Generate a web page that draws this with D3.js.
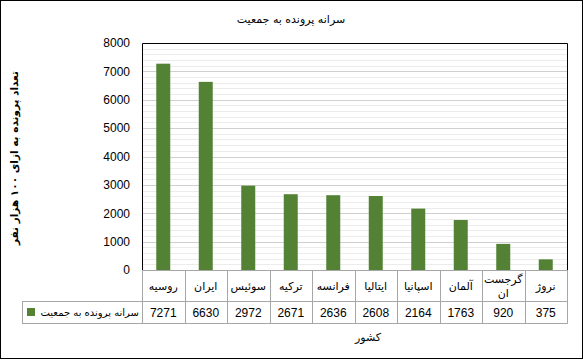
<!DOCTYPE html>
<html>
<head>
<meta charset="utf-8">
<script src="https://cdnjs.cloudflare.com/ajax/libs/d3/7.8.5/d3.min.js"></script>
<style>
  body { margin: 0; background: #fff; }
  svg text { font-family: "DejaVu Sans", sans-serif; }
</style>
</head>
<body>
<div class="chart"></div>
<script>
// data
const countries = ["روسیه", "ایران", "سوئیس", "ترکیه", "فرانسه", "ایتالیا", "اسپانیا", "آلمان", "گرجستان", "نروژ"];
const values = [7271, 6630, 2972, 2671, 2636, 2608, 2164, 1763, 920, 375];
const yTicks = [0, 1000, 2000, 3000, 4000, 5000, 6000, 7000, 8000];
const seriesName = "سرانه پرونده به جمعیت";

const width = 583, height = 360;
const plot = { left: 142, right: 567, top: 43, bottom: 270 };
const green = "#548235";
const lineGray = "#a6a6a6";

let svg = d3.select(".chart")
  .append("svg")
  .attr("width", width)
  .attr("height", height);

// outer border
svg.append("rect")
  .attr("x", 0.5).attr("y", 0.5)
  .attr("width", width - 1).attr("height", height - 2)
  .attr("fill", "#fff").attr("stroke", "#000");

// scales
const x = d3.scaleBand().domain(countries).range([plot.left, plot.right]);
const y = d3.scaleLinear().domain([0, 8000]).range([plot.bottom, plot.top]);

// minor gridlines every 200
svg.append("g")
  .selectAll("line")
  .data(d3.range(200, 8000, 200).filter(v => v % 1000 !== 0))
  .enter().append("line")
  .attr("x1", plot.left).attr("x2", plot.right)
  .attr("y1", d => Math.round(y(d)) + 0.5).attr("y2", d => Math.round(y(d)) + 0.5)
  .attr("stroke", "#ececec");

// major gridlines
svg.append("g")
  .selectAll("line")
  .data(yTicks.slice(1, -1))
  .enter().append("line")
  .attr("x1", plot.left).attr("x2", plot.right)
  .attr("y1", d => Math.round(y(d)) + 0.5).attr("y2", d => Math.round(y(d)) + 0.5)
  .attr("stroke", "#d0d0d0");

// y axis labels
const yAxis = d3.axisLeft(y).tickValues(yTicks).tickFormat(d3.format("d")).tickSize(0).tickPadding(12);
svg.append("g")
  .attr("transform", `translate(${plot.left},0)`)
  .call(yAxis)
  .call(g => g.select(".domain").remove())
  .selectAll("text")
  .style("font-family", "Arial, 'Liberation Sans', sans-serif")
  .style("font-size", "12px")
  .attr("fill", "#000");

// bars
const barW = 14;
svg.append("g")
  .selectAll("rect")
  .data(values)
  .enter().append("rect")
  .attr("x", (d, i) => x(countries[i]) + x.bandwidth() / 2 - barW / 2)
  .attr("y", d => y(d))
  .attr("width", barW)
  .attr("height", d => y(0) - y(d))
  .attr("fill", green);

// plot frame (top, left, right)
svg.append("path")
  .attr("d", `M${plot.left + 0.5},${plot.bottom}V${plot.top + 0.5}H${plot.right + 0.5}V${plot.bottom}`)
  .attr("fill", "none").attr("stroke", "#000");

// data table
const rowCat = { top: 270, bottom: 301 };
const rowVal = { top: 301, bottom: 323 };
const legendLeft = 22;
const table = svg.append("g").attr("stroke", lineGray);

// horizontal lines
table.append("line").attr("x1", plot.left).attr("x2", plot.right + 0.5)
  .attr("y1", rowCat.top + 0.5).attr("y2", rowCat.top + 0.5);
table.append("line").attr("x1", legendLeft).attr("x2", plot.right + 0.5)
  .attr("y1", rowVal.top + 0.5).attr("y2", rowVal.top + 0.5);
table.append("line").attr("x1", legendLeft).attr("x2", plot.right + 0.5)
  .attr("y1", rowVal.bottom + 0.5).attr("y2", rowVal.bottom + 0.5);
// legend cell left edge
table.append("line").attr("x1", legendLeft + 0.5).attr("x2", legendLeft + 0.5)
  .attr("y1", rowVal.top).attr("y2", rowVal.bottom + 0.5);
// column separators
table.selectAll(".sep")
  .data(countries.concat(["end"]))
  .enter().append("line")
  .attr("x1", (d, i) => Math.round(plot.left + i * x.bandwidth()) + 0.5)
  .attr("x2", (d, i) => Math.round(plot.left + i * x.bandwidth()) + 0.5)
  .attr("y1", rowCat.top).attr("y2", rowVal.bottom + 0.5);

// category labels
svg.append("g")
  .selectAll("text")
  .data(countries)
  .enter().append("text")
  .attr("x", d => x(d) + x.bandwidth() / 2)
  .attr("y", (rowCat.top + rowCat.bottom) / 2 + 4)
  .attr("text-anchor", "middle")
  .style("font-size", "11px")
  .each(function(d) {
    const t = d3.select(this);
    if (d === "گرجستان") {
      t.append("tspan").attr("x", x(d) + x.bandwidth() / 2).attr("dy", -7).text("گرجست");
      t.append("tspan").attr("x", x(d) + x.bandwidth() / 2).attr("dy", 14).text("ان");
    } else {
      t.text(d);
    }
  });

// value row
svg.append("g")
  .selectAll("text")
  .data(values)
  .enter().append("text")
  .attr("x", (d, i) => x(countries[i]) + x.bandwidth() / 2)
  .attr("y", (rowVal.top + rowVal.bottom) / 2 + 4.5)
  .attr("text-anchor", "middle")
  .style("font-family", "Arial, 'Liberation Sans', sans-serif")
  .style("font-size", "12px")
  .text(d => d);

// legend key + name
svg.append("rect")
  .attr("x", 27).attr("y", 308)
  .attr("width", 8).attr("height", 8)
  .attr("fill", green);
svg.append("text")
  .attr("x", 139).attr("y", 316)
  .attr("text-anchor", "end")
  .style("font-size", "10px")
  .text(seriesName);

// chart title
svg.append("text")
  .attr("x", 291).attr("y", 23)
  .attr("text-anchor", "middle")
  .style("font-size", "11px")
  .text(seriesName);

// x axis title
svg.append("text")
  .attr("x", 368).attr("y", 341)
  .attr("text-anchor", "middle")
  .style("font-size", "11px")
  .text("کشور");

// y axis title
svg.append("text")
  .attr("transform", "translate(18,158) rotate(-90)")
  .attr("text-anchor", "middle")
  .style("font-size", "10.5px")
  .style("font-weight", "bold")
  .text("تعداد پرونده به ازای ۱۰۰ هزار نفر");
</script>
</body>
</html>
